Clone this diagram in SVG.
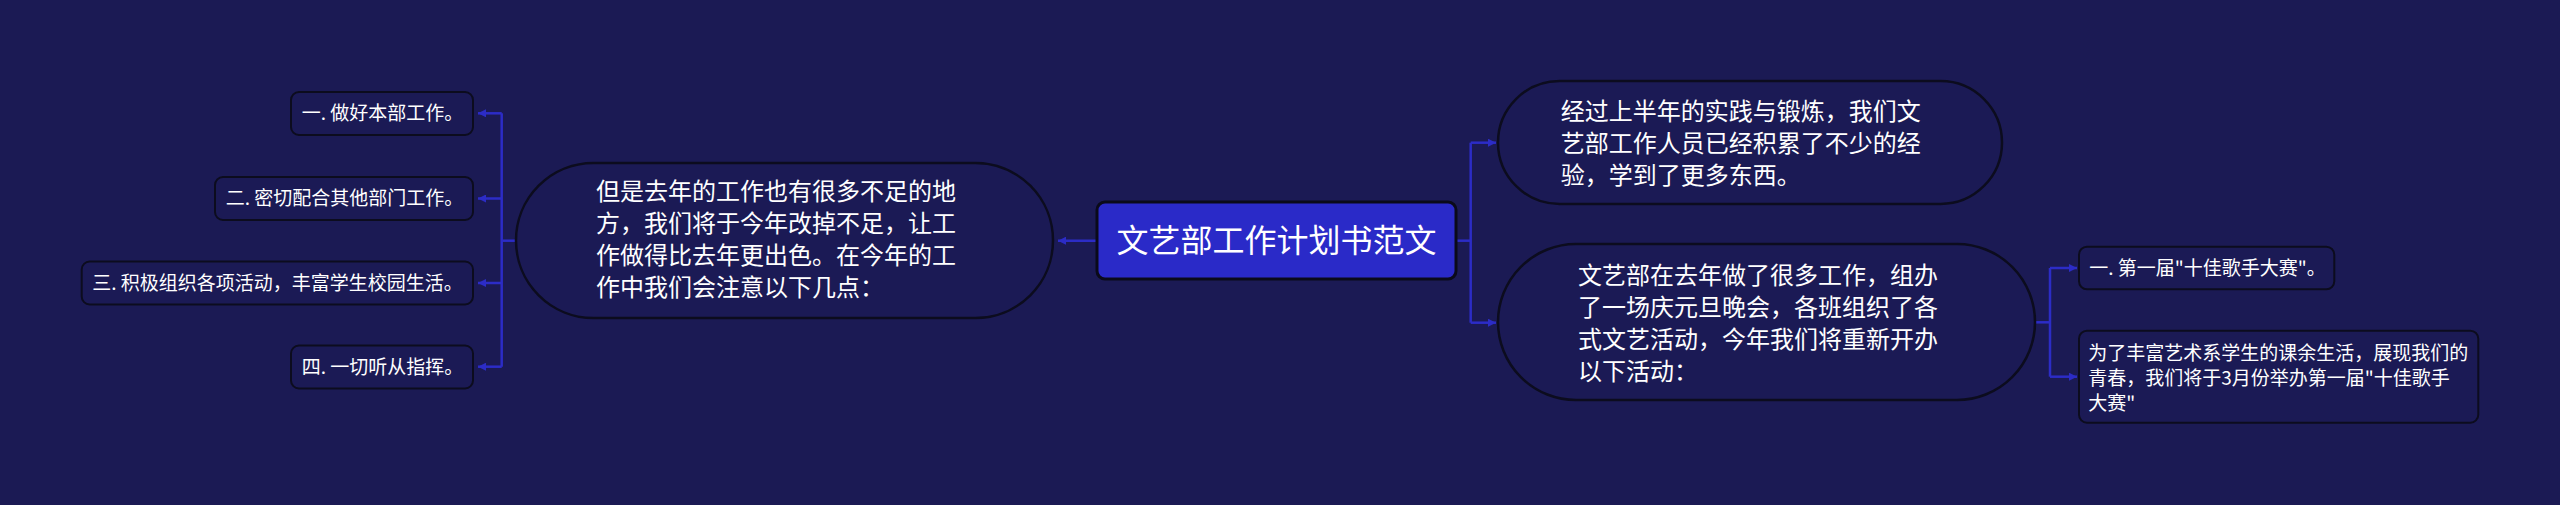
<svg xmlns="http://www.w3.org/2000/svg" width="2560" height="505" viewBox="0 0 2560 505">
<style>
.t{font-family:"Noto Sans CJK SC","Noto Sans",sans-serif;fill:#ffffff}
.main{fill:#1b1a55;stroke:#0c0c1e;stroke-width:2.5}
.leaf{fill:#1b1a55;stroke:#0c0c1e;stroke-width:2}
.c{fill:none;stroke:#2c2cc6;stroke-width:2.5}
.f24{font-size:24px}
.f19{font-size:19px}
</style>
<defs>
<marker id="ah" markerUnits="userSpaceOnUse" viewBox="0 0 8 8" markerWidth="8" markerHeight="8" refX="8" refY="4" orient="auto">
<path d="M0,0 L8,4 L0,8 z" fill="#2c2cc6"/>
</marker>
</defs>
<rect width="2560" height="505" fill="#1b1a54"/>
<g id="connectors">
<path class="c" d="M1097,240.7 H1058" marker-end="url(#ah)"/>
<path class="c" d="M516,240.7 H501.7"/>
<path class="c" d="M501.7,113.3 V366.7"/>
<path class="c" d="M501.7,113.3 H478" marker-end="url(#ah)"/>
<path class="c" d="M501.7,198.5 H478" marker-end="url(#ah)"/>
<path class="c" d="M501.7,283 H478" marker-end="url(#ah)"/>
<path class="c" d="M501.7,366.7 H478" marker-end="url(#ah)"/>
<path class="c" d="M1456,240.7 H1470.7"/>
<path class="c" d="M1470.7,142.7 V322.7"/>
<path class="c" d="M1470.7,142.7 H1496" marker-end="url(#ah)"/>
<path class="c" d="M1470.7,322.7 H1496" marker-end="url(#ah)"/>
<path class="c" d="M2035,322.3 H2050"/>
<path class="c" d="M2050,268 V376.7"/>
<path class="c" d="M2050,268 H2077" marker-end="url(#ah)"/>
<path class="c" d="M2050,376.7 H2077" marker-end="url(#ah)"/>
</g>
<g id="root">
<rect x="1097" y="202" width="359" height="77" rx="8" fill="#2a2ac8" stroke="#0a0a1a" stroke-width="3"/>
<text class="t" x="1276.5" y="252.2" font-size="32" text-anchor="middle">文艺部工作计划书范文</text>
</g>
<g id="left-main">
<rect class="main" x="516" y="163" width="537" height="155" rx="77.5"/>
<text class="t f24"><tspan x="596" y="200.3">但是去年的工作也有很多不足的地</tspan><tspan x="596" y="232.3">方，我们将于今年改掉不足，让工</tspan><tspan x="596" y="264.3">作做得比去年更出色。在今年的工</tspan><tspan x="596" y="296.3">作中我们会注意以下几点：</tspan></text>
</g>
<g id="leaf1">
<rect class="leaf" x="291" y="92" width="182" height="43" rx="8"/>
<text class="t f19" x="301.7" y="120.3">一. 做好本部工作。</text>
</g>
<g id="leaf2">
<rect class="leaf" x="215" y="177" width="258" height="43" rx="8"/>
<text class="t f19" x="225.7" y="205.3">二. 密切配合其他部门工作。</text>
</g>
<g id="leaf3">
<rect class="leaf" x="81.7" y="261.5" width="391.3" height="43" rx="8"/>
<text class="t f19" x="92.3" y="289.8">三. 积极组织各项活动，丰富学生校园生活。</text>
</g>
<g id="leaf4">
<rect class="leaf" x="291" y="345.5" width="182" height="43" rx="8"/>
<text class="t f19" x="301.7" y="373.8">四. 一切听从指挥。</text>
</g>
<g id="right-main1">
<rect class="main" x="1498" y="81" width="504" height="123" rx="61.5"/>
<text class="t f24"><tspan x="1560.7" y="120.2">经过上半年的实践与锻炼，我们文</tspan><tspan x="1560.7" y="152.2">艺部工作人员已经积累了不少的经</tspan><tspan x="1560.7" y="184.2">验，学到了更多东西。</tspan></text>
</g>
<g id="right-main2">
<rect class="main" x="1498" y="244" width="537" height="156" rx="78"/>
<text class="t f24"><tspan x="1578" y="283.6">文艺部在去年做了很多工作，组办</tspan><tspan x="1578" y="315.6">了一场庆元旦晚会，各班组织了各</tspan><tspan x="1578" y="347.6">式文艺活动，今年我们将重新开办</tspan><tspan x="1578" y="379.6">以下活动：</tspan></text>
</g>
<g id="sub1">
<rect class="leaf" x="2079" y="246.7" width="255.3" height="42.6" rx="8"/>
<text class="t f19" x="2089.3" y="274.8">一. 第一届"十佳歌手大赛"。</text>
</g>
<g id="sub2">
<rect class="leaf" x="2079" y="330.7" width="399.3" height="92" rx="8"/>
<text class="t f19"><tspan x="2088.3" y="360">为了丰富艺术系学生的课余生活，展现我们的</tspan><tspan x="2088.3" y="385">青春，我们将于3月份举办第一届"十佳歌手</tspan><tspan x="2088.3" y="410">大赛"</tspan></text>
</g>
</svg>
